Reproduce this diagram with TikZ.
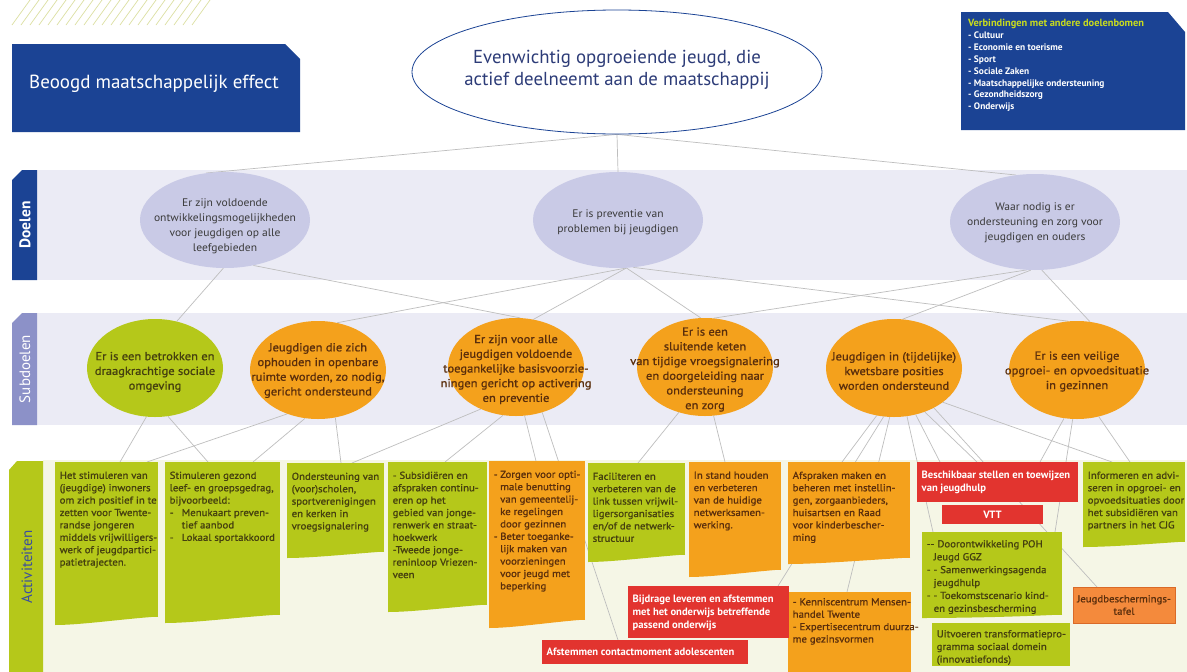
\documentclass[tikz,border=0pt]{standalone}
\usepackage{fontspec}
\setmainfont{PT Sans}
\newfontfamily\medfont{PT Sans}[FakeBold=1.1, FakeStretch=1.08]
\newfontfamily\goalfont{PT Sans}[FakeStretch=1.05]
\usetikzlibrary{shapes.geometric,calc}
\pgfdeclarelayer{bg}
\pgfsetlayers{bg,main}
\definecolor{dblue}{HTML}{1B4394}
\definecolor{band}{HTML}{EBEBF5}
\definecolor{goalfill}{HTML}{C9CAE6}
\definecolor{subtab}{HTML}{8C91C8}
\definecolor{actband}{HTML}{F5F6E6}
\definecolor{lime}{HTML}{B5C81A}
\definecolor{orng}{HTML}{F4A11C}
\definecolor{redb}{HTML}{E2342F}
\definecolor{coral}{HTML}{F48A3C}
\definecolor{coraldk}{HTML}{D96A28}
\definecolor{connc}{HTML}{BEBEBE}
\definecolor{hatchc}{HTML}{DCE0A2}
\definecolor{ygreen}{HTML}{C8DC1E}
\definecolor{topblue}{HTML}{2D3C78}
\definecolor{gtext}{HTML}{3A3A3A}
\definecolor{otext}{HTML}{5A2E0C}
\definecolor{ltext}{HTML}{45400F}
\definecolor{actblue}{HTML}{3A4D9E}
% name, fill, x,y, w, h, text options, text y offset, text
\newcommand{\abox}[9]{%
  \node[boxsh, fill=#2, minimum width=#4, minimum height=#5] (#1) at (#3) {};
  \node[boxtext, #6] (#1t) at ($(#1.north west)+(4.5,#7)$) {#8};%
}
\newcommand{\wavebot}[3]{%
  \fill[#2] ($(#1.south west)+(0,-0.5)$) -- ($(#1.south east)+(0,-0.5)$)
     .. controls ($(#1.south east)!0.35!(#1.south west)+(0,2)$) and ($(#1.south east)!0.75!(#1.south west)+(0,#3)$) .. ($(#1.south west)+(0,#3)$) -- cycle;%
}
\begin{document}
\begin{tikzpicture}[x=1pt,y=-1pt,
  conn/.style={draw=connc, line width=0.7pt},
  goal/.style={ellipse, fill=goalfill, draw=none, inner sep=0pt, minimum width=170, minimum height=96},
  goaltext/.style={align=center, text=gtext, inner sep=0pt, font=\goalfont\fontsize{11}{15}\selectfont},
  sub/.style={ellipse, fill=orng, draw=none, inner sep=0pt, minimum width=136, minimum height=98},
  subtext/.style={align=center, text=otext, inner sep=0pt, font=\medfont\fontsize{11.6}{14.7}\selectfont},
  boxsh/.style={rectangle, inner sep=0pt, outer sep=0pt, anchor=north west, draw=none},
  boxtext/.style={anchor=north west, inner sep=0pt, align=left, font=\medfont\fontsize{10}{12.4}\selectfont},
  redtext/.style={text=white, font=\fontsize{10.6}{13}\selectfont\bfseries},
  tablbl/.style={rotate=90, inner sep=0pt}
]
\useasboundingbox (0,0) rectangle (1187,672);

% background bands
\begin{pgfonlayer}{bg}
\fill[white] (0,0) rectangle (1187,672);
\fill[band] (37,170) rectangle (1187,280);
\fill[band] (37,313) rectangle (1187,425);
\fill[actband] (43,460) rectangle (1187,672);
\foreach \i in {0,...,20} {\draw[hatchc, line width=0.7pt] (12+\i*9,25) -- (30+\i*9,0);}
\end{pgfonlayer}

% tabs
\fill[dblue] (12,180) -- (22,170) -- (37,170) -- (37,280) -- (12,280) -- cycle;
\node[tablbl, text=white, font=\fontsize{15.5}{15.5}\selectfont\bfseries] (doelenlbl) at (25,225) {Doelen};
\fill[subtab] (12,323) -- (22,313) -- (37,313) -- (37,425) -- (12,425) -- cycle;
\node[tablbl, text=white, font=\fontsize{15}{15}\selectfont] (subdoelenlbl) at (25,369) {Subdoelen};
\fill[lime] (9,470) -- (17,461) -- (43,461) -- (43,672) -- (9,672) -- cycle;
\node[tablbl, text=actblue, font=\fontsize{15}{15}\selectfont] (actlbl) at (27,567) {Activiteiten};

% title box
\fill[dblue] (12,44) -- (285,44) -- (300,59) -- (300,132) -- (12,132) -- cycle;
\node[anchor=west, text=white, inner sep=0pt, font=\fontsize{19}{19}\selectfont] (title) at (29,84) {Beoogd maatschappelijk effect};

% connections box
\fill[dblue] (961,12) -- (1168,12) -- (1185,32) -- (1185,130) -- (961,130) -- cycle;
\node[anchor=north west, inner sep=0pt, align=left, text=white, font=\fontsize{9.4}{11.9}\selectfont\bfseries] (verb) at (968,19)
 {\textcolor{ygreen}{\fontsize{10.4}{11.9}\selectfont Verbindingen met andere doelenbomen}\\
  - Cultuur\\- Economie en toerisme\\- Sport\\- Sociale Zaken\\- Maatschappelijke ondersteuning\\- Gezondheidszorg\\- Onderwijs};

% top ellipse
\node[ellipse, draw=dblue, fill=white, line width=0.8pt, inner sep=0pt, minimum width=410, minimum height=124] (top) at (617,72) {};
\node[align=center, inner sep=0pt, text=topblue, font=\fontsize{18.8}{21.5}\selectfont] (topt) at (617,70) {Evenwichtig opgroeiende jeugd, die\\actief deelneemt aan de maatschappij};

% goals
\node[goal] (d1) at (225,220) {};
\node[goaltext] (d1t) at (225,226) {Er zijn voldoende\\ontwikkelingsmogelijkheden\\voor jeugdigen op alle\\leefgebieden};
\node[goal] (d2) at (618,220) {};
\node[goaltext] (d2t) at (618,222) {Er is preventie van\\problemen bij jeugdigen};
\node[goal] (d3) at (1035,222) {};
\node[goaltext] (d3t) at (1035,223) {Waar nodig is er\\ondersteuning en zorg voor\\jeugdigen en ouders};

% subgoals
\node[sub, fill=lime] (s1) at (155,368) {};
\node[subtext, text=ltext] (s1t) at (155,372) {Er is een betrokken en\\draagkrachtige sociale\\omgeving};
\node[sub] (s2) at (318,370) {};
\node[subtext] (s2t) at (318,370.5) {Jeugdigen die zich\\ophouden in openbare\\ruimte worden, zo nodig,\\gericht ondersteund};
\node[sub] (s3) at (516,367) {};
\node[subtext] (s3t) at (516,369.5) {Er zijn voor alle\\jeugdigen voldoende\\toegankelijke basisvoorzie-\\ningen gericht op activering\\en preventie};
\node[sub] (s4) at (705,367) {};
\node[subtext] (s4t) at (705,369.5) {Er is een\\sluitende keten\\van tijdige vroegsignalering\\en doorgeleiding naar\\ondersteuning\\en zorg};
\node[sub] (s5) at (894,368) {};
\node[subtext] (s5t) at (894,371) {Jeugdigen in (tijdelijke)\\kwetsbare posities\\worden ondersteund};
\node[sub] (s6) at (1077,370) {};
\node[subtext] (s6t) at (1077,371.5) {Er is een veilige\\opgroei- en opvoedsituatie\\in gezinnen};

% activities
\abox{a1}{lime}{55,462}{103}{155}{text=ltext}{9.5}{Het stimuleren van\\(jeugdige) inwoners\\om zich positief in te\\zetten voor Twente-\\randse jongeren\\middels vrijwilligers-\\werk of jeugdpartici-\\patietrajecten.}{}
\wavebot{a1}{lime}{8}
\abox{a2}{lime}{165,462}{115}{153}{text=ltext}{9.5}{Stimuleren gezond\\leef- en groepsgedrag,\\bijvoorbeeld:\\\makebox[12pt][l]{-}Menukaart preven-\\\hspace*{12pt}tief aanbod\\\makebox[12pt][l]{-}Lokaal sportakkoord}{}
\wavebot{a2}{lime}{8}
\abox{a3}{lime}{287,463}{97}{89}{text=ltext}{9.5}{Ondersteuning van\\(voor)scholen,\\sportverenigingen\\en kerken in\\vroegsignalering}{}
\wavebot{a3}{lime}{6}
\abox{a4}{lime}{388,462}{99}{143}{text=ltext}{9.5}{- Subsidiëren en\\afspraken continu-\\eren op het\\gebied van jonge-\\renwerk en straat-\\hoekwerk\\-Tweede jonge-\\reninloop Vriezen-\\veen}{}
\wavebot{a4}{lime}{7}
\abox{a5}{orng}{489,461}{96}{159}{text=otext}{9.5}{\makebox[6.5pt][l]{-}Zorgen voor opti-\\\hspace*{6.5pt}male benutting\\\hspace*{6.5pt}van gemeentelij-\\\hspace*{6.5pt}ke regelingen\\\hspace*{6.5pt}door gezinnen\\\makebox[6.5pt][l]{-}Beter toeganke-\\\hspace*{6.5pt}lijk maken van\\\hspace*{6.5pt}voorzieningen\\\hspace*{6.5pt}voor jeugd met\\\hspace*{6.5pt}beperking}{}
\wavebot{a5}{orng}{8}
\abox{a6}{lime}{588,463}{97}{92}{text=ltext}{9.5}{Faciliteren en\\verbeteren van de\\link tussen vrijwil-\\ligersorganisaties\\en/of de netwerk-\\structuur}{}
\wavebot{a6}{lime}{7}
\abox{a7}{orng}{689,462}{92}{108}{text=otext}{9.5}{In stand houden\\en verbeteren\\van de huidige\\netwerksamen-\\werking.}{}
\wavebot{a7}{orng}{7}
\abox{a8}{orng}{788,462}{122}{96}{text=otext}{9.5}{Afspraken maken en\\beheren met instellin-\\gen, zorgaanbieders,\\huisartsen en Raad\\voor kinderbescher-\\ming}{}
\wavebot{a8}{orng}{6}
\abox{a9}{orng}{788,592}{123}{80}{text=otext}{6}{- Kenniscentrum Mensen-\\handel Twente\\- Expertisecentrum duurza-\\me gezinsvormen}{}
\abox{r2}{redb}{628,586}{161}{52}{redtext}{8.5}{Bijdrage leveren en afstemmen\\met het onderwijs betreffende\\passend onderwijs}{}
\abox{r1}{redb}{542,640}{206}{24}{redtext}{7.5}{Afstemmen contactmoment adolescenten}{}
\abox{r3}{redb}{917,462}{161}{40}{redtext}{8.5}{Beschikbaar stellen en toewijzen\\van jeugdhulp}{}
\node[boxsh, fill=redb, minimum width=101, minimum height=19] (r4) at (942,505) {};
\node[text=white, inner sep=0pt, font=\fontsize{10.6}{12}\selectfont\bfseries] (r4t) at (r4.center) {VTT};
\abox{g10}{lime}{922,532}{140}{83}{text=ltext, font=\medfont\fontsize{10}{12.9}\selectfont}{8}{-{}- Doorontwikkeling POH\\\hspace*{7pt}Jeugd GGZ\\- - Samenwerkingsagenda\\\hspace*{7pt}jeugdhulp\\- - Toekomstscenario kind-\\\hspace*{7pt}en gezinsbescherming}{}
\wavebot{g10}{lime}{3}
\abox{g11}{lime}{932,623}{138}{43}{text=ltext, font=\medfont\fontsize{10}{12.7}\selectfont}{7}{Uitvoeren transformatiepro-\\gramma sociaal domein\\(innovatiefonds)}{}
\node[boxsh, fill=coral, draw=coraldk, line width=0.6pt, minimum width=102, minimum height=36] (o12) at (1073,587) {};
\node[align=center, inner sep=0pt, text=otext, font=\medfont\fontsize{10}{12.4}\selectfont] (o12t) at (o12.center) {Jeugdbeschermings-\\tafel};
\abox{g13}{lime}{1083,462}{102}{80}{text=ltext}{9.5}{Informeren en advi-\\seren in opgroei- en\\opvoedsituaties door\\het subsidiëren van\\partners in het CJG}{}
\wavebot{g13}{lime}{5}

% connectors (behind all shapes)
\begin{pgfonlayer}{bg}
\draw[conn] (top.south) -- (d1.112);
\draw[conn] (top.south) -- (d2.north);
\draw[conn] (top.south) -- (d3.112);
\draw[conn] (d1.-92) -- (s1.65);
\draw[conn] (d1.-58) -- (s3.85);
\draw[conn] (d2.-80) -- (s2.68);
\draw[conn] (d2.-80) -- (s3.70);
\draw[conn] (d2.-80) -- (s4.95);
\draw[conn] (d2.-72) -- (s6.100);
\draw[conn] (d3.-100) -- (s4.80);
\draw[conn] (d3.-95) -- (s5.80);
\draw[conn] (d3.-82) -- (s6.75);
\draw[conn] (s1.-100) -- ([xshift=65pt]a1.north west);
\draw[conn] (s1.-75) -- ([xshift=43pt]a2.north west);
\draw[conn] (s2.-125) -- ([xshift=92pt]a1.north west);
\draw[conn] (s2.-105) -- ([xshift=88pt]a2.north west);
\draw[conn] (s2.-70) -- ([xshift=54pt]a3.north west);
\draw[conn] (s3.-130) -- ([xshift=65pt]a3.north west);
\draw[conn] (s3.-105) -- ([xshift=57pt]a4.north west);
\draw[conn] (s3.-80) -- ([xshift=47pt]a5.north west);
\draw[conn] (s3.-60) -- ([xshift=76pt]r1.north west);
\draw[conn] (s4.-120) -- ([xshift=50pt]a6.north west);
\draw[conn] (s4.-80) -- ([xshift=36pt]a7.north west);
\draw[conn] (s5.-110) -- ([xshift=54pt]a8.north west);
\draw[conn] (s5.-102) -- ([xshift=150pt]r2.north west);
\draw[conn] (s5.-95) -- ([xshift=59pt]a9.north west);
\draw[conn] (s5.-75) -- ([xshift=11pt]g10.north west);
\draw[conn] (s5.-65) -- ([xshift=23pt]r3.north west);
\draw[conn] (s5.-55) -- ([xshift=60pt]r3.north west);
\draw[conn] (s5.-45) -- ([xshift=24pt]o12.north west);
\draw[conn] (s5.-35) -- ([xshift=29pt]g13.north west);
\draw[conn] (s6.-105) -- ([xshift=123pt]r3.north west);
\draw[conn] (s6.-95) -- ([xshift=133pt]g10.north west);
\draw[conn] (s6.-65) -- ([xshift=47pt]g13.north west);
\end{pgfonlayer}
\end{tikzpicture}
\end{document}
